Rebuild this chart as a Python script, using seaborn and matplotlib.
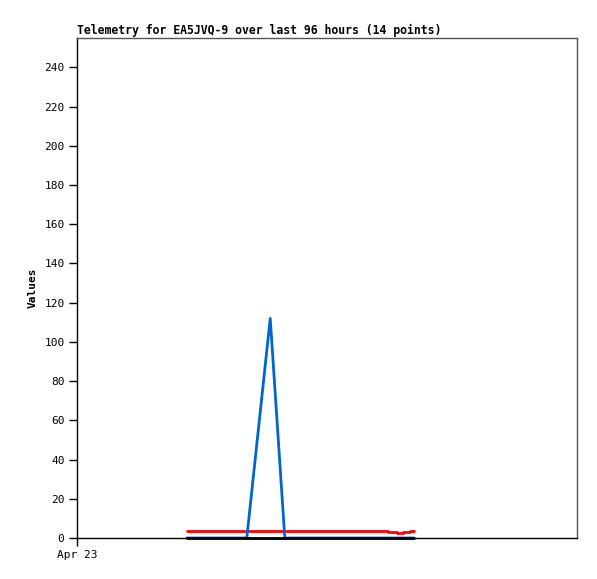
import pandas as pd
import numpy as np
import seaborn as sns
import matplotlib.pyplot as plt

sns.set_style('white')
plt.rcParams['font.family'] = ['DejaVu Sans Mono']
plt.rcParams['text.color'] = 'black'
plt.rcParams['axes.labelcolor'] = 'black'
plt.rcParams['xtick.color'] = 'black'
plt.rcParams['ytick.color'] = 'black'

# hours since Apr 23 00:00
hours = [21.1, 26.5, 32.6, 37.1, 39.9, 44.7, 50.5, 55.3, 59.7, 61.4, 62.6, 63.9, 64.3, 64.7]
blue_vals = [0, 0, 0, 112, 0, 0, 0, 0, 0, 0, 0, 0, 0, 0]
red_vals = [3.7, 3.7, 3.7, 3.7, 3.7, 3.7, 3.7, 3.7, 3.2, 2.7, 3.2, 3.7, 3.7, 3.7]
black_vals = [0] * 14
yticks = list(range(0, 241, 20))

df = pd.DataFrame({'hours': hours, 'blue': blue_vals, 'red': red_vals, 'black': black_vals})

fig = plt.figure(figsize=(5.97, 5.79), dpi=100)
ax = fig.add_axes([77/597, 41/579, 500/597, 500/579])

sns.lineplot(data=df, x='hours', y='red', color='#ff0000', linewidth=2, drawstyle='steps-post', ax=ax)
sns.lineplot(data=df, x='hours', y='blue', color='#0066cc', linewidth=2, ax=ax)
sns.lineplot(data=df, x='hours', y='black', color='black', linewidth=2, ax=ax, clip_on=False)

ax.set_xlim(0, 96)
ax.set_ylim(0, 255)
ax.set_yticks(yticks)
ax.set_yticklabels([str(t) for t in yticks], fontsize=8)
ax.set_xticks([0])
ax.set_xticklabels(['Apr 23'], fontsize=8)
ax.tick_params(axis='both', direction='out', length=6, width=1, color='black', pad=3, left=True, bottom=True)
ax.set_xlabel('')
ax.set_ylabel('Values', fontsize=8, fontweight='bold', labelpad=5)
for side in ['top', 'right']:
    ax.spines[side].set_color('#555555')
    ax.spines[side].set_linewidth(1)
for side in ['left', 'bottom']:
    ax.spines[side].set_color('black')
    ax.spines[side].set_linewidth(1)
ax.set_title('Telemetry for EA5JVQ-9 over last 96 hours (14 points)', fontsize=8.3,
             fontweight='bold', loc='left', pad=3)

fig.savefig('out.png', dpi=100)
